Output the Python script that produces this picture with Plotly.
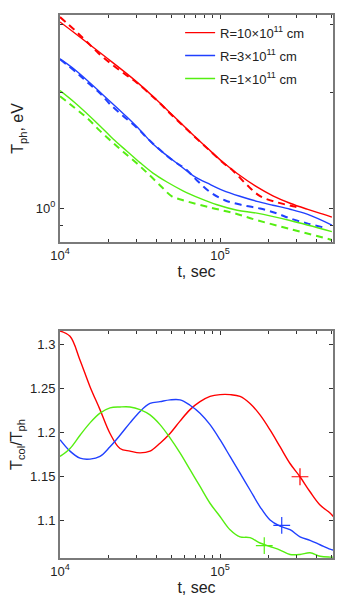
import plotly.graph_objects as go

# top panel: photospheric temperature (solid and dashed per radius)
t_red = [1.0e4, 1.24e4, 1.91e4, 2.94e4, 4.04e4, 5.08e4, 6.49e4, 8.29e4, 1.04e5, 1.28e5, 1.70e5, 2.14e5, 2.74e5, 3.5e5, 4.4e5, 5.0e5]
tph_red = [3.05, 2.851, 2.48, 2.15, 1.909, 1.742, 1.579, 1.436, 1.318, 1.231, 1.136, 1.077, 1.03, 0.994, 0.965, 0.948]
t_red_d = [1.0e4, 1.24e4, 1.47e4, 1.74e4, 2.1e4, 2.55e4, 3.02e4, 4.04e4, 5.08e4, 6.49e4, 8.29e4, 1.04e5, 1.21e5, 1.47e5, 1.78e5, 2.27e5, 2.86e5, 3.1e5]
tph_red_d = [3.14, 2.90, 2.71, 2.53, 2.37, 2.23, 2.12, 1.905, 1.735, 1.575, 1.433, 1.315, 1.25, 1.15, 1.075, 1.036, 1.012, 1.005]

t_blue = [1.0e4, 1.24e4, 2.05e4, 2.62e4, 3.16e4, 3.81e4, 4.66e4, 5.62e4, 6.78e4, 8.66e4, 1.04e5, 1.33e5, 1.70e5, 2.14e5, 2.74e5, 3.5e5, 5.0e5]
tph_blue = [2.445, 2.29, 1.898, 1.726, 1.598, 1.468, 1.37, 1.291, 1.216, 1.153, 1.113, 1.074, 1.042, 1.018, 0.994, 0.965, 0.904]
t_blue_d = [1.0e4, 1.28e4, 1.5e4, 1.778e4, 2.05e4, 2.48e4, 3.03e4, 3.65e4, 5.08e4, 6.04e4, 7.18e4, 8.66e4, 1.07e5, 1.39e5, 1.78e5, 2.27e5, 2.74e5, 3.5e5, 4.4e5]
tph_blue_d = [2.44, 2.245, 2.117, 1.991, 1.865, 1.737, 1.618, 1.497, 1.33, 1.268, 1.181, 1.102, 1.049, 1.018, 0.998, 0.969, 0.941, 0.913, 0.892]

t_green = [1.0e4, 1.24e4, 1.778e4, 2.14e4, 2.62e4, 3.16e4, 3.81e4, 4.66e4, 5.87e4, 7.5e4, 9.58e4, 1.28e5, 1.70e5, 2.74e5, 5.0e5]
tph_green = [2.023, 1.881, 1.637, 1.515, 1.407, 1.314, 1.234, 1.17, 1.11, 1.061, 1.021, 0.988, 0.971, 0.929, 0.869]
t_green_d = [1.0e4, 1.24e4, 1.5e4, 1.778e4, 2.14e4, 2.48e4, 3.03e4, 3.65e4, 4.34e4, 5.0e4, 5.87e4, 8.66e4, 1.21e5, 1.70e5, 2.74e5, 5.0e5]
tph_green_d = [1.955, 1.821, 1.706, 1.589, 1.48, 1.403, 1.306, 1.216, 1.133, 1.074, 1.049, 1.004, 0.972, 0.931, 0.883, 0.827]

# bottom panel: T_col / T_ph
t_col = [1.0e4, 1.155e4, 1.334e4, 1.54e4, 1.778e4, 2.054e4, 2.371e4, 2.738e4, 3.162e4, 3.652e4,
         4.217e4, 4.87e4, 5.623e4, 6.494e4, 7.499e4, 8.66e4, 1.0e5, 1.155e5, 1.334e5, 1.54e5,
         1.778e5, 2.054e5, 2.371e5, 2.738e5, 3.162e5, 3.652e5, 4.217e5, 4.87e5, 5.1e5]
ratio_red = [1.315, 1.309, 1.282, 1.252, 1.226, 1.199, 1.182, 1.179, 1.177, 1.179,
             1.188, 1.199, 1.213, 1.226, 1.235, 1.241, 1.243, 1.243, 1.241, 1.233,
             1.220, 1.203, 1.184, 1.165, 1.150, 1.133, 1.118, 1.109, 1.105]
ratio_blue = [1.192, 1.179, 1.171, 1.170, 1.173, 1.184, 1.197, 1.211, 1.224, 1.233,
              1.235, 1.237, 1.237, 1.231, 1.222, 1.209, 1.192, 1.173, 1.154, 1.135,
              1.116, 1.101, 1.094, 1.090, 1.082, 1.078, 1.073, 1.068, 1.067]
ratio_green = [1.173, 1.182, 1.197, 1.211, 1.222, 1.228, 1.229, 1.229, 1.226, 1.220,
               1.209, 1.194, 1.177, 1.158, 1.139, 1.120, 1.105, 1.090, 1.082, 1.081,
               1.075, 1.071, 1.067, 1.062, 1.062, 1.064, 1.060, 1.059, 1.059]

mark_t = [3.16e5, 2.43e5, 1.89e5]
mark_r = [1.150, 1.095, 1.072]

labels = ["R=10×10<sup>11</sup> cm", "R=3×10<sup>11</sup> cm", "R=1×10<sup>11</sup> cm"]
colors = ["#ff0000", "#2040ff", "#55ee11"]

fig = go.Figure()

top = [(t_red, tph_red, t_red_d, tph_red_d),
       (t_blue, tph_blue, t_blue_d, tph_blue_d),
       (t_green, tph_green, t_green_d, tph_green_d)]
for i, ((ts, ys, td, yd), c, lab) in enumerate(zip(top, colors, labels)):
    fig.add_trace(go.Scatter(x=ts, y=ys, mode="lines", name=lab, legendgroup=str(i),
                             line=dict(color=c, width=1.4, shape="spline"),
                             xaxis="x", yaxis="y"))
    fig.add_trace(go.Scatter(x=td, y=yd, mode="lines", showlegend=False,
                             line=dict(color=c, width=2, dash="7px,5px", shape="spline"),
                             xaxis="x", yaxis="y"))

for ys, c in zip([ratio_red, ratio_blue, ratio_green], colors):
    fig.add_trace(go.Scatter(x=t_col, y=ys, mode="lines", showlegend=False,
                             line=dict(color=c, width=1.4, shape="spline"),
                             xaxis="x2", yaxis="y2"))
fig.add_trace(go.Scatter(x=mark_t, y=mark_r, mode="markers", showlegend=False,
                         marker=dict(symbol="cross-thin-open", size=12, color=colors,
                                     line=dict(width=1.2, color=colors)),
                         xaxis="x2", yaxis="y2"))

frame = dict(showline=True, linecolor="#7a7a7a", linewidth=2, mirror="ticks",
             ticks="inside", ticklen=4, tickcolor="#333", showgrid=False,
             zeroline=False, automargin=False)
xcommon = dict(type="log", range=[4, 5.706],
               tickvals=[1e4, 1e5], ticktext=["10<sup>4</sup>", "10<sup>5</sup>"],
               minor=dict(ticks="inside", ticklen=3, tickcolor="#333",
                          tickvals=[2e4, 3e4, 4e4, 5e4, 6e4, 7e4, 8e4, 9e4, 2e5, 3e5, 4e5, 5e5]),
               title=dict(text="t, sec", standoff=2), **frame)

# page body has an 8px margin, so the figure is a little smaller than the window
fig.update_layout(
    width=335, height=595,
    margin=dict(l=52, r=10, t=7, b=45),
    paper_bgcolor="white", plot_bgcolor="white",
    font=dict(family="Liberation Sans, Arial, sans-serif", size=13, color="#222"),
    xaxis=dict(domain=[0, 1], anchor="y", **xcommon),
    yaxis=dict(domain=[0.582, 1], anchor="x", type="log",
               range=[-0.0878, 0.5024],
               tickvals=[1], ticktext=["10<sup>0</sup>"],
               minor=dict(ticks="inside", ticklen=3, tickcolor="#333", tickvals=[0.9, 2, 3]),
               title=dict(text="T<sub>ph</sub>, eV", standoff=8), **frame),
    xaxis2=dict(domain=[0, 1], anchor="y2", **xcommon),
    yaxis2=dict(domain=[0, 0.418], anchor="x2", range=[1.058, 1.315],
                tickvals=[1.1, 1.15, 1.2, 1.25, 1.3],
                ticktext=["1.1", "1.15", "1.2", "1.25", "1.3"],
                title=dict(text="T<sub>col</sub>/T<sub>ph</sub>", standoff=6), **frame),
    legend=dict(x=0.44, y=0.995, xanchor="left", yanchor="top", traceorder="grouped",
                tracegroupgap=3, bgcolor="rgba(0,0,0,0)", font=dict(size=13)),
    showlegend=True,
)

fig.write_html("out.html")
